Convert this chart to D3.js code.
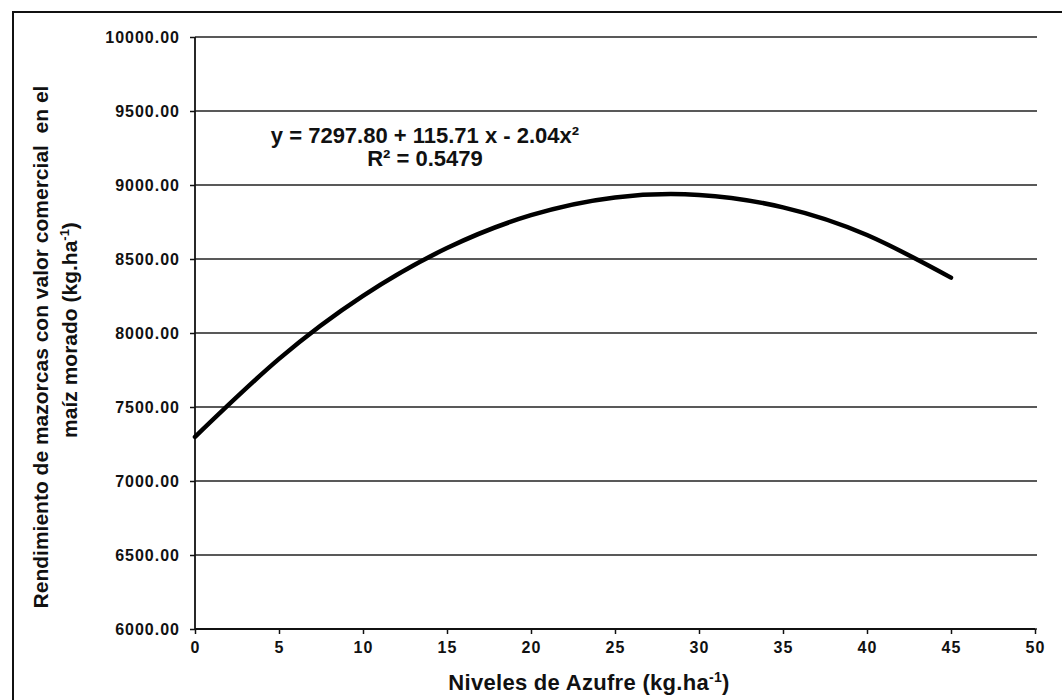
<!DOCTYPE html>
<html>
<head>
<meta charset="utf-8">
<script src="https://cdn.jsdelivr.net/npm/d3@7"></script>
<style>
    body { margin: 0; background: #fff; }
    svg text { font-family: "Liberation Sans", Arial, sans-serif; font-weight: bold; fill: #111; }
</style>
</head>
<body>
<div id="chart"></div>
<script>
// values
const azufre = [0, 5, 10, 15, 20, 25, 30, 35, 40, 45];
const rendimiento = [7298, 7825, 8251, 8574, 8796, 8916, 8933, 8849, 8662, 8374];
const yTicks = [6000, 6500, 7000, 7500, 8000, 8500, 9000, 9500, 10000];
const xTicks = [0, 5, 10, 15, 20, 25, 30, 35, 40, 45, 50];
const equation = "y = 7297.80 + 115.71 x - 2.04x²";
const r2 = "R² = 0.5479";

const width = 1062;
const height = 700;

const svg = d3.select("#chart")
    .append("svg")
    .attr("width", width)
    .attr("height", height);

// scanned outer frame (left and top only)
svg.append("path")
    .attr("d", `M13,${height} L13,12 L${width},12`)
    .attr("fill", "none")
    .attr("stroke", "#111")
    .attr("stroke-width", 2);

const x = d3.scaleLinear().domain([0, 50]).range([195, 1035]);
const y = d3.scaleLinear().domain([6000, 10000]).range([629, 37]);

// gridlines
svg.append("g")
    .selectAll("line")
    .data(yTicks)
    .enter()
    .append("line")
    .attr("x1", x(0))
    .attr("x2", x(50) + 2)
    .attr("y1", d => y(d))
    .attr("y2", d => y(d))
    .attr("stroke", "#222")
    .attr("stroke-width", 1.6);

const yAxis = svg.append("g")
    .attr("transform", `translate(${x(0)},0)`)
    .call(d3.axisLeft(y).tickValues(yTicks).tickFormat(d3.format(".2f")).tickSize(5).tickPadding(10));

const xAxis = svg.append("g")
    .attr("transform", `translate(0,${y(6000)})`)
    .call(d3.axisBottom(x).tickValues(xTicks).tickSize(5).tickPadding(8));

[yAxis, xAxis].forEach(g => {
    g.select(".domain").attr("stroke", "#111").attr("stroke-width", 1.8);
    g.selectAll(".tick line").attr("stroke", "#111").attr("stroke-width", 1.5);
    g.selectAll("text").attr("font-size", 16).attr("letter-spacing", 1).attr("fill", "#111");
});
yAxis.select(".domain").attr("d", `M0,${y(6000)}V${y(10000)}`);
xAxis.select(".domain").attr("d", `M${x(0)},0H${x(50)}`);

// fitted curve
const line = d3.line()
    .x((d, i) => x(azufre[i]))
    .y(d => y(d))
    .curve(d3.curveNatural);

svg.append("path")
    .datum(rendimiento)
    .attr("d", line)
    .attr("fill", "none")
    .attr("stroke", "#000")
    .attr("stroke-width", 4.5)
    .attr("stroke-linecap", "round");

// equation label
svg.append("text")
    .attr("x", 425)
    .attr("y", 143)
    .attr("text-anchor", "middle")
    .attr("font-size", 22)
    .text(equation);
svg.append("text")
    .attr("x", 425)
    .attr("y", 166)
    .attr("text-anchor", "middle")
    .attr("font-size", 22)
    .text(r2);

// axis titles
const xt = svg.append("text")
    .attr("x", 589)
    .attr("y", 690)
    .attr("text-anchor", "middle")
    .attr("font-size", 22)
    .attr("letter-spacing", 0.3);
xt.append("tspan").text("Niveles de Azufre (kg.ha");
xt.append("tspan").attr("font-size", 14).attr("dy", -8).text("-1");
xt.append("tspan").attr("dy", 8).text(")");

svg.append("text")
    .attr("transform", "translate(48,347) rotate(-90)")
    .attr("text-anchor", "middle")
    .attr("font-size", 21)
    .text("Rendimiento de mazorcas con valor comercial\u00a0 en el");

const yt2 = svg.append("text")
    .attr("transform", "translate(77,330) rotate(-90)")
    .attr("text-anchor", "middle")
    .attr("font-size", 21);
yt2.append("tspan").text("maíz morado (kg.ha");
yt2.append("tspan").attr("font-size", 13).attr("dy", -8).text("-1");
yt2.append("tspan").attr("dy", 8).text(")");
</script>
</body>
</html>
